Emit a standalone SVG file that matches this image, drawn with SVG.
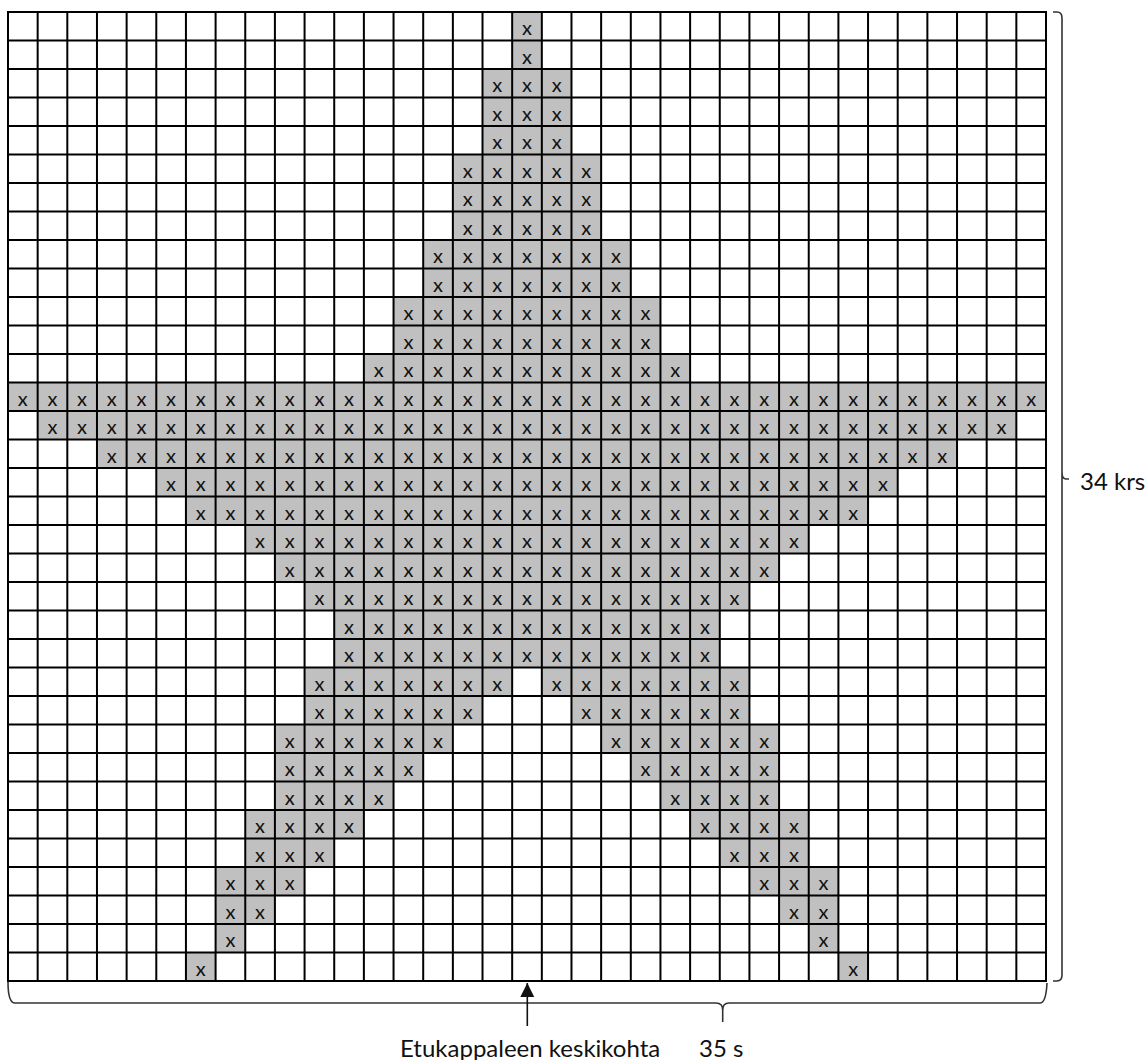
<svg xmlns="http://www.w3.org/2000/svg" width="1146" height="1060" viewBox="0 0 1146 1060">
<style>
.fill{fill:#c0c0c0;stroke:none}
.grid{fill:none;stroke:#000;stroke-width:2;stroke-linecap:square}
.mk{font-family:Lato,"Noto Sans","Liberation Sans",sans-serif;font-size:20px;fill:#111;text-anchor:middle}
.lbl{font-family:Lato,"Noto Sans","Liberation Sans",sans-serif;font-size:24px;fill:#111}
.brace{fill:none;stroke:#333;stroke-width:1.6}
.arr{fill:none;stroke:#111;stroke-width:1.6}
</style>
<defs>
<marker id="ah" viewBox="0 0 10 10" refX="10" refY="5" markerWidth="14" markerHeight="14" markerUnits="userSpaceOnUse" orient="auto"><path d="M0 0L10 5L0 10z" fill="#111"/></marker>
</defs>
<rect width="1146" height="1060" fill="#fff"/>
<g id="fills">
<rect class="fill" x="512.17" y="12" width="29.66" height="57"/>
<rect class="fill" x="482.51" y="69" width="88.97" height="85.5"/>
<rect class="fill" x="452.86" y="154.5" width="148.29" height="85.5"/>
<rect class="fill" x="423.20" y="240" width="207.6" height="57"/>
<rect class="fill" x="393.54" y="297" width="266.91" height="57"/>
<rect class="fill" x="363.88" y="354" width="326.23" height="28.5"/>
<rect class="fill" x="8" y="382.5" width="1038" height="28.5"/>
<rect class="fill" x="37.66" y="411" width="978.68" height="28.5"/>
<rect class="fill" x="96.97" y="439.5" width="860.05" height="28.5"/>
<rect class="fill" x="156.29" y="468" width="741.43" height="28.5"/>
<rect class="fill" x="185.94" y="496.5" width="682.11" height="28.5"/>
<rect class="fill" x="245.26" y="525" width="563.48" height="28.5"/>
<rect class="fill" x="274.91" y="553.5" width="504.17" height="28.5"/>
<rect class="fill" x="304.57" y="582" width="444.86" height="28.5"/>
<rect class="fill" x="334.23" y="610.5" width="385.54" height="57"/>
<rect class="fill" x="304.57" y="667.5" width="207.6" height="28.5"/>
<rect class="fill" x="541.83" y="667.5" width="207.6" height="28.5"/>
<rect class="fill" x="304.57" y="696" width="177.94" height="28.5"/>
<rect class="fill" x="571.48" y="696" width="177.94" height="28.5"/>
<rect class="fill" x="274.91" y="724.5" width="177.94" height="28.5"/>
<rect class="fill" x="601.14" y="724.5" width="177.94" height="28.5"/>
<rect class="fill" x="274.91" y="753" width="148.29" height="28.5"/>
<rect class="fill" x="630.80" y="753" width="148.29" height="28.5"/>
<rect class="fill" x="274.91" y="781.5" width="118.63" height="28.5"/>
<rect class="fill" x="660.45" y="781.5" width="118.63" height="28.5"/>
<rect class="fill" x="245.26" y="810" width="118.63" height="28.5"/>
<rect class="fill" x="690.11" y="810" width="118.63" height="28.5"/>
<rect class="fill" x="245.26" y="838.5" width="88.97" height="28.5"/>
<rect class="fill" x="719.77" y="838.5" width="88.97" height="28.5"/>
<rect class="fill" x="215.60" y="867" width="88.97" height="28.5"/>
<rect class="fill" x="749.43" y="867" width="88.97" height="28.5"/>
<rect class="fill" x="215.60" y="895.5" width="59.31" height="28.5"/>
<rect class="fill" x="779.08" y="895.5" width="59.31" height="28.5"/>
<rect class="fill" x="215.60" y="924" width="29.66" height="28.5"/>
<rect class="fill" x="808.74" y="924" width="29.66" height="28.5"/>
<rect class="fill" x="185.94" y="952.5" width="29.66" height="28.5"/>
<rect class="fill" x="838.40" y="952.5" width="29.66" height="28.5"/>
</g>
<g id="grid">
<path class="grid" d="M8 12V981M37.66 12V981M67.31 12V981M96.97 12V981M126.63 12V981M156.29 12V981M185.94 12V981M215.6 12V981M245.26 12V981M274.91 12V981M304.57 12V981M334.23 12V981M363.88 12V981M393.54 12V981M423.2 12V981M452.86 12V981M482.51 12V981M512.17 12V981M541.83 12V981M571.48 12V981M601.14 12V981M630.8 12V981M660.45 12V981M690.11 12V981M719.77 12V981M749.43 12V981M779.08 12V981M808.74 12V981M838.4 12V981M868.05 12V981M897.71 12V981M927.37 12V981M957.03 12V981M986.68 12V981M1016.34 12V981M1046 12V981"/>
<path class="grid" d="M8 12H1046M8 40.5H1046M8 69H1046M8 97.5H1046M8 126H1046M8 154.5H1046M8 183H1046M8 211.5H1046M8 240H1046M8 268.5H1046M8 297H1046M8 325.5H1046M8 354H1046M8 382.5H1046M8 411H1046M8 439.5H1046M8 468H1046M8 496.5H1046M8 525H1046M8 553.5H1046M8 582H1046M8 610.5H1046M8 639H1046M8 667.5H1046M8 696H1046M8 724.5H1046M8 753H1046M8 781.5H1046M8 810H1046M8 838.5H1046M8 867H1046M8 895.5H1046M8 924H1046M8 952.5H1046M8 981H1046"/>
</g>
<g id="marks">
<text class="mk" x="527" y="35">x</text>
<text class="mk" x="527" y="63.5">x</text>
<text class="mk" x="497.3 527 556.7" y="92">xxx</text>
<text class="mk" x="497.3 527 556.7" y="120.5">xxx</text>
<text class="mk" x="497.3 527 556.7" y="149">xxx</text>
<text class="mk" x="467.7 497.3 527 556.7 586.3" y="177.5">xxxxx</text>
<text class="mk" x="467.7 497.3 527 556.7 586.3" y="206">xxxxx</text>
<text class="mk" x="467.7 497.3 527 556.7 586.3" y="234.5">xxxxx</text>
<text class="mk" x="438 467.7 497.3 527 556.7 586.3 616" y="263">xxxxxxx</text>
<text class="mk" x="438 467.7 497.3 527 556.7 586.3 616" y="291.5">xxxxxxx</text>
<text class="mk" x="408.4 438 467.7 497.3 527 556.7 586.3 616 645.6" y="320">xxxxxxxxx</text>
<text class="mk" x="408.4 438 467.7 497.3 527 556.7 586.3 616 645.6" y="348.5">xxxxxxxxx</text>
<text class="mk" x="378.7 408.4 438 467.7 497.3 527 556.7 586.3 616 645.6 675.3" y="377">xxxxxxxxxxx</text>
<text class="mk" x="22.8 52.5 82.1 111.8 141.5 171.1 200.8 230.4 260.1 289.7 319.4 349.1 378.7 408.4 438 467.7 497.3 527 556.7 586.3 616 645.6 675.3 704.9 734.6 764.3 793.9 823.6 853.2 882.9 912.5 942.2 971.9 1001.5 1031.2" y="405.5">xxxxxxxxxxxxxxxxxxxxxxxxxxxxxxxxxxx</text>
<text class="mk" x="52.5 82.1 111.8 141.5 171.1 200.8 230.4 260.1 289.7 319.4 349.1 378.7 408.4 438 467.7 497.3 527 556.7 586.3 616 645.6 675.3 704.9 734.6 764.3 793.9 823.6 853.2 882.9 912.5 942.2 971.9 1001.5" y="434">xxxxxxxxxxxxxxxxxxxxxxxxxxxxxxxxx</text>
<text class="mk" x="111.8 141.5 171.1 200.8 230.4 260.1 289.7 319.4 349.1 378.7 408.4 438 467.7 497.3 527 556.7 586.3 616 645.6 675.3 704.9 734.6 764.3 793.9 823.6 853.2 882.9 912.5 942.2" y="462.5">xxxxxxxxxxxxxxxxxxxxxxxxxxxxx</text>
<text class="mk" x="171.1 200.8 230.4 260.1 289.7 319.4 349.1 378.7 408.4 438 467.7 497.3 527 556.7 586.3 616 645.6 675.3 704.9 734.6 764.3 793.9 823.6 853.2 882.9" y="491">xxxxxxxxxxxxxxxxxxxxxxxxx</text>
<text class="mk" x="200.8 230.4 260.1 289.7 319.4 349.1 378.7 408.4 438 467.7 497.3 527 556.7 586.3 616 645.6 675.3 704.9 734.6 764.3 793.9 823.6 853.2" y="519.5">xxxxxxxxxxxxxxxxxxxxxxx</text>
<text class="mk" x="260.1 289.7 319.4 349.1 378.7 408.4 438 467.7 497.3 527 556.7 586.3 616 645.6 675.3 704.9 734.6 764.3 793.9" y="548">xxxxxxxxxxxxxxxxxxx</text>
<text class="mk" x="289.7 319.4 349.1 378.7 408.4 438 467.7 497.3 527 556.7 586.3 616 645.6 675.3 704.9 734.6 764.3" y="576.5">xxxxxxxxxxxxxxxxx</text>
<text class="mk" x="319.4 349.1 378.7 408.4 438 467.7 497.3 527 556.7 586.3 616 645.6 675.3 704.9 734.6" y="605">xxxxxxxxxxxxxxx</text>
<text class="mk" x="349.1 378.7 408.4 438 467.7 497.3 527 556.7 586.3 616 645.6 675.3 704.9" y="633.5">xxxxxxxxxxxxx</text>
<text class="mk" x="349.1 378.7 408.4 438 467.7 497.3 527 556.7 586.3 616 645.6 675.3 704.9" y="662">xxxxxxxxxxxxx</text>
<text class="mk" x="319.4 349.1 378.7 408.4 438 467.7 497.3 556.7 586.3 616 645.6 675.3 704.9 734.6" y="690.5">xxxxxxxxxxxxxx</text>
<text class="mk" x="319.4 349.1 378.7 408.4 438 467.7 586.3 616 645.6 675.3 704.9 734.6" y="719">xxxxxxxxxxxx</text>
<text class="mk" x="289.7 319.4 349.1 378.7 408.4 438 616 645.6 675.3 704.9 734.6 764.3" y="747.5">xxxxxxxxxxxx</text>
<text class="mk" x="289.7 319.4 349.1 378.7 408.4 645.6 675.3 704.9 734.6 764.3" y="776">xxxxxxxxxx</text>
<text class="mk" x="289.7 319.4 349.1 378.7 675.3 704.9 734.6 764.3" y="804.5">xxxxxxxx</text>
<text class="mk" x="260.1 289.7 319.4 349.1 704.9 734.6 764.3 793.9" y="833">xxxxxxxx</text>
<text class="mk" x="260.1 289.7 319.4 734.6 764.3 793.9" y="861.5">xxxxxx</text>
<text class="mk" x="230.4 260.1 289.7 764.3 793.9 823.6" y="890">xxxxxx</text>
<text class="mk" x="230.4 260.1 793.9 823.6" y="918.5">xxxx</text>
<text class="mk" x="230.4 823.6" y="947">xx</text>
<text class="mk" x="200.8 853.2" y="975.5">xx</text>
</g>
<g id="connectors">
<path id="brace-rows" class="brace" d="M1053 12H1057Q1062 12 1062 18V472Q1062 479 1066 479H1069M1062 472Q1062 479 1062 486V975Q1062 981 1057 981H1053"/>
<path id="brace-cols" class="brace" d="M8 982Q8 1003 15 1003H716Q722.7 1003 722.7 1010V1022M722.7 1010Q722.7 1003 729 1003H1040Q1046 1003 1047 983"/>
<path id="center-arrow" class="arr" d="M527.3 1026V983" marker-end="url(#ah)"/>
</g>
<g id="labels">
<text id="lbl-rows" class="lbl" x="1080" y="490">34 krs</text>
<text id="lbl-center" class="lbl" x="400" y="1057">Etukappaleen keskikohta</text>
<text id="lbl-cols" class="lbl" x="699" y="1057">35 s</text>
</g>
</svg>
